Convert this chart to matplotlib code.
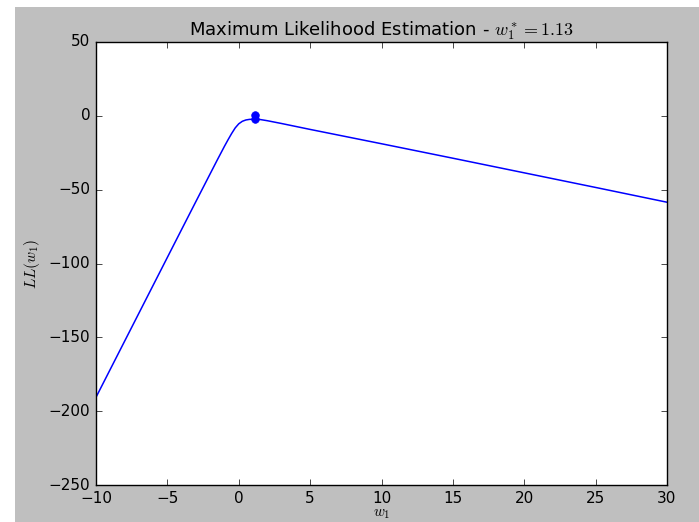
import matplotlib
matplotlib.use('Agg')
import matplotlib.pyplot as plt
from matplotlib.patches import Rectangle

plt.style.use('classic')
plt.rcParams['font.size'] = 11

# log-likelihood curve, values
w1 = [-10, -8, -6, -4, -3, -2, -1.5, -1, -0.75, -0.5, -0.25, 0, 0.25, 0.5,
      0.75, 1.13, 1.5, 2, 3, 5, 10, 15, 20, 25, 30]
ll = [-190.6, -152.7, -114.8, -76.9, -58.0, -39.2, -29.8, -20.6, -16.2,
      -12.0, -8.2, -5.4, -3.7, -2.8, -2.4, -2.3, -2.5, -3.3, -5.2, -9.2,
      -18.9, -28.7, -38.6, -48.5, -58.5]

# maximum marker
w_star = [1.13, 1.13]
ll_star = [0.3, -2.1]

fig = plt.figure(figsize=(6.99, 5.22), dpi=100, facecolor='white')
# gray figure background (screenshot has a white strip left and top)
fig.patches.append(Rectangle((15 / 699, 0), 1, 1 - 7 / 522,
                             transform=fig.transFigure, facecolor='0.75',
                             edgecolor='none', zorder=-1))

ax = fig.add_axes([96 / 699, 37 / 522, 571 / 699, 443 / 522])
ax.plot(w1, ll, 'b-', linewidth=1.1)
ax.plot(w_star, ll_star, 'bo', markersize=5.5, markeredgecolor='b')

ax.set_xlim(-10, 30)
ax.set_ylim(-250, 50)
ax.set_title('Maximum Likelihood Estimation - $w_1^*=1.13$', fontsize=13)
ax.set_xlabel('$w_1$', labelpad=0)
ax.set_ylabel('$LL(w_1)$')

fig.savefig('out.png', dpi=100, facecolor='white')
